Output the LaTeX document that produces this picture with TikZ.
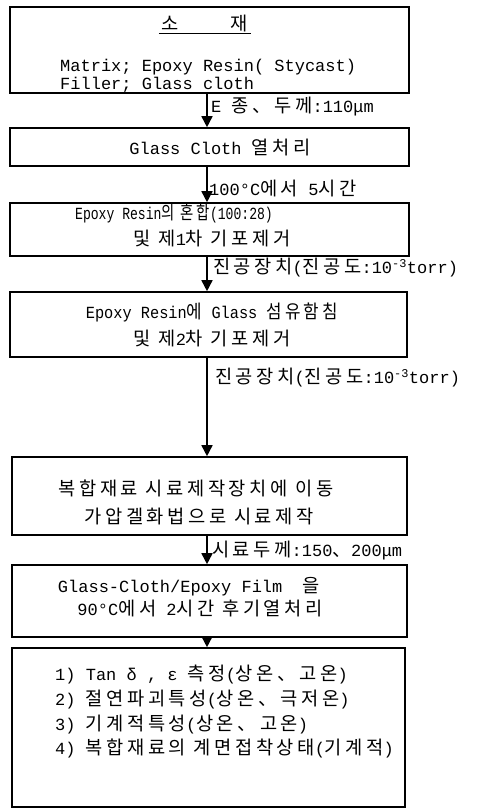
\documentclass[tikz,border=0pt]{standalone}
\usepackage{fontspec}
\usepackage{graphicx}
\setmainfont{Liberation Mono}
\newfontfamily\kr[Scale=1.1,LetterSpace=19]{Noto Sans CJK KR}
\newcommand\K[1]{{\kr #1}}
\usetikzlibrary{arrows.meta}
\tikzset{
  box/.style={draw, line width=1.6pt, rectangle, inner sep=0pt},
  txt/.style={inner sep=0pt, font=\fontsize{17}{20}\selectfont},
  lbl/.style={txt, anchor=west},
  arr/.style={line width=1.6pt, -{Triangle[width=11pt,length=11pt]}}
}
\begin{document}
\begin{tikzpicture}[x=1pt,y=-1pt]
\useasboundingbox (0,0) rectangle (489,810);
% boxes
\node[box, minimum width=399pt, minimum height=86pt] (b1) at (209.5,50) {};
\node[box, minimum width=399pt, minimum height=38pt] (b2) at (209.5,147) {};
\node[box, minimum width=399pt, minimum height=53pt] (b3) at (209.5,229.5) {};
\node[box, minimum width=397pt, minimum height=65pt] (b4) at (208.5,324.5) {};
\node[box, minimum width=395pt, minimum height=78pt] (b5) at (209.5,496) {};
\node[box, minimum width=395pt, minimum height=72pt] (b6) at (209.5,601) {};
\node[box, minimum width=393pt, minimum height=159pt] (b7) at (208.5,727.5) {};
% arrows
\coordinate (ax) at (207,0);
\draw[arr] (b1.south -| ax) -- (b2.north -| ax);
\draw[arr] (b2.south -| ax) -- (b3.north -| ax);
\draw[arr] (b3.south -| ax) -- (b4.north -| ax);
\draw[arr] (b4.south -| ax) -- (b5.north -| ax);
\draw[arr] (b5.south -| ax) -- (b6.north -| ax);
\draw[arr] (b6.south -| ax) -- (b7.north -| ax);
% box 1
\node[txt] (t1a) at (205,24) {\underline{\,\K{소}\hspace{52pt}\K{재}\,}};
\node[txt, anchor=west] (t1b) at (60,67) {Matrix; Epoxy Resin( Stycast)};
\node[txt, anchor=west] (t1c) at (60,85) {Filler; Glass cloth};
% box 2
\node[txt] (t2) at (220,148) {Glass Cloth \K{열처리}};
% box 3
\node[txt] (t3a) at (174,213) {\scalebox{0.77}[1]{Epoxy Resin\K{의 혼합}(100:28)}};
\node[txt] (t3b) at (212,238) {\K{및 제}1\K{차 기포제거}};
% box 4
\node[txt] (t4a) at (212,312) {\scalebox{0.9}[1]{Epoxy Resin\K{에} Glass \K{섬유함침}}};
\node[txt] (t4b) at (212,338) {\K{및 제}2\K{차 기포제거}};
% box 5
\node[txt] (t5a) at (196,488) {\K{복합재료~시료제작장치에 이동}};
\node[txt] (t5b) at (199,517) {\K{가압겔화법으로~시료제작}};
% box 6
\node[txt] (t6a) at (189,587) {Glass-Cloth/Epoxy Film~~\K{을}};
\node[txt] (t6b) at (200,608) {90°C\K{에서} 2\K{시간 후기열처리}};
% box 7
\node[txt, anchor=west] (t7a) at (55,675) {1) Tan δ , ε \K{측정}(\K{상온、고온})};
\node[txt, anchor=west] (t7b) at (55,700) {2) \K{절연파괴특성}(\K{상온、극저온})};
\node[txt, anchor=west] (t7c) at (55,725) {3) \K{기계적특성}(\K{상온、고온})};
\node[txt, anchor=west] (t7d) at (55,748) {4) \K{복합재료의~계면접착상태}(\K{기계적})};
% labels
\node[lbl] (l1) at (211,107) {E \K{종、두께}:110μm};
\node[lbl] (l2) at (209,189) {100°C\K{에서} 5\K{시간}};
\node[lbl] (l3) at (213,268) {\K{진공장치}(\K{진공도}:10\textsuperscript{-3}torr)};
\node[lbl] (l4) at (215,378) {\K{진공장치}(\K{진공도}:10\textsuperscript{-3}torr)};
\node[lbl] (l5) at (212,551) {\K{시료두께}:150\K{、}200μm};
\end{tikzpicture}
\end{document}
